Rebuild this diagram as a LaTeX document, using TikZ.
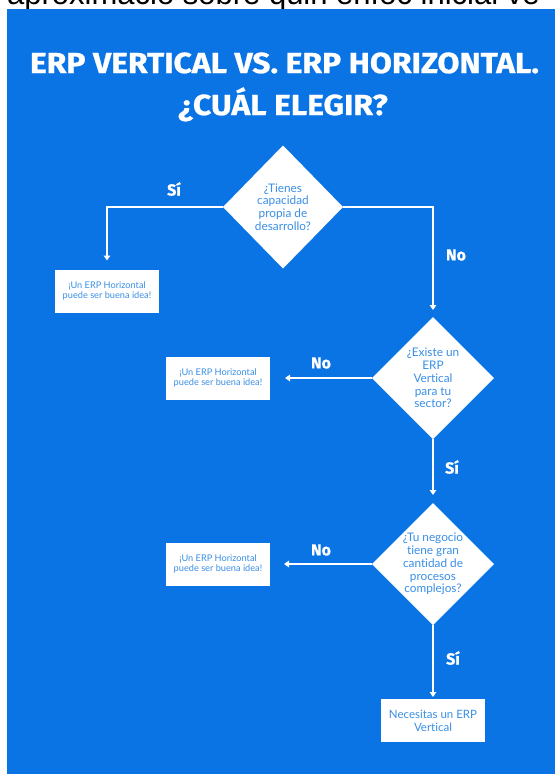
\documentclass[tikz,border=0pt]{standalone}
\usepackage{fontspec}
\usepackage{graphicx}
\usetikzlibrary{shapes.geometric,arrows.meta}
\newfontfamily\titlefont[BoldFeatures={FakeBold=0.8}]{Fira Sans}
\newfontfamily\bodyfont[Ligatures=NoCommon]{Lato}
\newfontfamily\topfont{Liberation Sans}
\definecolor{bgblue}{HTML}{0B74E5}
\definecolor{txtblue}{HTML}{3A8FE6}
\newlength\titlew
\begin{document}
\settowidth\titlew{\titlefont\bfseries\fontsize{29}{29}\selectfont ERP VERTICAL VS. ERP HORIZONTAL.}%
\pgfmathsetmacro\tsx{509/\titlew}%
\begin{tikzpicture}[x=1pt,y=-1pt,
  decision/.style={diamond, fill=white, draw=none, inner sep=0pt, outer sep=0pt,
    minimum width=122pt, minimum height=122pt, aspect=1},
  dtext/.style={text=txtblue, align=center, inner sep=0pt,
    font=\bodyfont\fontsize{11.8}{12.8}\selectfont},
  answer/.style={rectangle, fill=white, draw=none, minimum width=104pt, minimum height=43pt,
    inner sep=0pt, outer sep=0pt, text=txtblue, align=center,
    font=\bodyfont\fontsize{9.2}{10.2}\selectfont},
  final/.style={answer, font=\bodyfont\fontsize{11.5}{13}\selectfont},
  arr/.style={draw=white, line width=1.8pt, -{Triangle[width=6.5pt,length=5pt]}},
  lbl/.style={text=white, inner sep=0pt, font=\titlefont\bfseries\fontsize{16}{16}\selectfont},
  titlestyle/.style={text=white, anchor=base, inner sep=0pt}
]
% page and background
\useasboundingbox (0,0) rectangle (555,774);
\fill[white] (0,0) rectangle (555,774);
\begin{scope}
  \clip (0,0) rectangle (555,9);
  \node[anchor=base west, inner sep=0pt, font=\topfont\fontsize{31}{31}\selectfont] (toptext) at (7,4.5) {aproximació sobre quin enfoc inicial ve};
\end{scope}
\fill[bgblue] (7,9) rectangle (555,774);
% title
\node[titlestyle] (t1) at (284.5,73) {\scalebox{\tsx}[1]{\titlefont\bfseries\fontsize{29}{29}\selectfont ERP VERTICAL VS. ERP HORIZONTAL.}};
\node[titlestyle] (t2) at (283,115) {\scalebox{\tsx}[1]{\titlefont\bfseries\fontsize{29}{29}\selectfont ¿CUÁL ELEGIR?}};
% decisions
\node[decision, minimum width=120pt, minimum height=123pt] (d1) at (283,207) {};
\node[dtext] (d1t) at (d1.center) {¿Tienes\\capacidad\\propia de\\desarrollo?};
\node[decision] (d2) at (433,378) {};
\node[dtext] (d2t) at (d2.center) {¿Existe un\\ERP\\Vertical\\para tu\\sector?};
\node[decision] (d3) at (433,564) {};
\node[dtext] (d3t) at (d3.center) {¿Tu negocio\\tiene gran\\cantidad de\\procesos\\complejos?};
% outcomes
\node[answer] (b1) at (107,291) {¡Un ERP Horizontal\\puede ser buena idea!};
\node[answer] (b2) at (218,378) {¡Un ERP Horizontal\\puede ser buena idea!};
\node[answer] (b3) at (218,564) {¡Un ERP Horizontal\\puede ser buena idea!};
\node[final] (b4) at (433,720.5) {Necesitas un ERP\\Vertical};
% connectors
\draw[arr, shorten >=9pt] (d1.west) -| (b1.north);
\draw[arr, shorten >=7pt] (d1.east) -| (d2.north);
\draw[arr, shorten >=15pt] (d2.west) -- (b2.east);
\draw[arr, shorten >=8pt] (d2.south) -- (d3.north);
\draw[arr, shorten >=14pt] (d3.west) -- (b3.east);
\draw[arr, shorten >=2pt] (d3.south) -- (b4.north);
% labels
\node[lbl] (l1) at (174,189) {Sí};
\node[lbl] (l2) at (456,255) {No};
\node[lbl] (l3) at (321,363) {No};
\node[lbl] (l4) at (452,467) {Sí};
\node[lbl] (l5) at (321,550) {No};
\node[lbl] (l6) at (453,658) {Sí};
\end{tikzpicture}
\end{document}
